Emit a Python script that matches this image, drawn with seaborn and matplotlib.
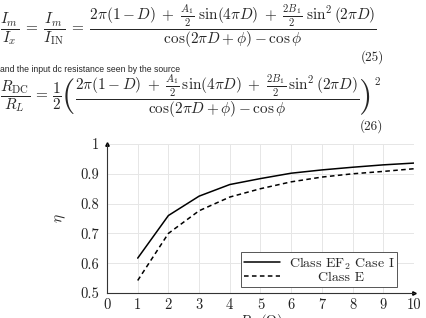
import numpy as np
import pandas as pd
import seaborn as sns
import matplotlib
matplotlib.use("Agg")
import matplotlib.pyplot as plt
from matplotlib.ticker import MultipleLocator, FuncFormatter

# Data
r_load = [1, 2, 3, 4, 5, 6, 7, 8, 9, 10]
eta_ef2 = [0.617, 0.760, 0.825, 0.864, 0.884, 0.902, 0.913, 0.922, 0.930, 0.936]
eta_e = [0.542, 0.700, 0.776, 0.822, 0.850, 0.873, 0.889, 0.900, 0.908, 0.917]
series_names = ["Class EF$_2$ Case I", "Class E"]
x_ticks = [0, 1, 2, 3, 4, 5, 6, 7, 8, 9, 10]
y_ticks = [0.5, 0.6, 0.7, 0.8, 0.9, 1.0]

df = pd.DataFrame({
    "R": r_load * 2,
    "eta": eta_ef2 + eta_e,
    "series": [series_names[0]] * len(r_load) + [series_names[1]] * len(r_load),
})

sns.set_style("white")
plt.rcParams["font.family"] = ["cmr10", "DejaVu Serif"]
plt.rcParams["mathtext.fontset"] = "cm"
plt.rcParams["axes.formatter.use_mathtext"] = True

fig = plt.figure(figsize=(4.27, 3.18), dpi=100)
W, H = 427, 318

# Equations above the chart
frac_body = (r"\dfrac{2\pi(1-D)\;+\;\frac{A_1}{2}\;\sin(4\pi D)\;+\;"
             r"\frac{2B_1}{2}\;\sin^2(2\pi D)}{\cos(2\pi D+\phi)-\cos\phi}")
frac_body26 = (r"\dfrac{2\pi(1-D)\;+\;\frac{A_1}{2}\,\sin(4\pi D)\;+\;"
               r"\frac{2B_1}{2}\,\sin^2(2\pi D)}{\cos(2\pi D+\phi)-\cos\phi}")
eq25 = r"$\dfrac{I_m}{I_x}\;=\;\dfrac{I_m}{I_{\rm IN}}\;=\;" + frac_body + r"$"
EQ_FS = 11
fig.text(0.0, 1 - 26 / H, eq25, fontsize=EQ_FS, ha="left", va="center")
fig.text(0.871, 1 - 57 / H, "(25)", fontsize=9.5, ha="center", va="center")
fig.text(0.0, 1 - 69 / H, "and the input dc resistance seen by the source",
         fontsize=6.2, ha="left", va="center", family=["Liberation Sans", "DejaVu Sans"])

# eq26 built from pieces (big parentheses drawn as separate glyphs)
fig.canvas.draw()
renderer = fig.canvas.get_renderer()
y26 = 1 - 96 / H
xcur = 0.0
pieces = [
    (r"$\dfrac{R_{\rm DC}}{R_L}\,=\,\dfrac{1}{2}$", EQ_FS),
    ("(", 25),
    ("$" + frac_body26 + "$", EQ_FS),
    (")", 25),
]
for txt, fs in pieces:
    t = fig.text(xcur, y26, txt, fontsize=fs, ha="left", va="center")
    bb = t.get_window_extent(renderer)
    xcur += bb.width / W
fig.text(xcur + 0.004, 1 - 82 / H, "2", fontsize=8, ha="left", va="center")
fig.text(0.871, 1 - 126 / H, "(26)", fontsize=9.5, ha="center", va="center")

ax = fig.add_axes([107 / W, 1 - 293 / H, (414 - 107) / W, (293 - 144) / H])
sns.lineplot(data=df, x="R", y="eta", hue="series", style="series",
             palette=["black", "black"], dashes=[(None, None), (3, 2.2)],
             linewidth=1.1, ax=ax, legend=True)

ax.set_xlim(0, 10)
ax.set_ylim(0.5, 1.0)
ax.set_xticks(x_ticks)
ax.set_yticks(y_ticks)
ax.xaxis.set_minor_locator(MultipleLocator(0.5))
ax.yaxis.set_minor_locator(MultipleLocator(0.05))
ax.yaxis.set_major_formatter(FuncFormatter(lambda v, p: "%g" % v))
ax.xaxis.set_major_formatter(FuncFormatter(lambda v, p: "%g" % v))
ax.tick_params(axis="both", which="major", direction="in", length=3.5, width=0.6,
               labelsize=10.5, colors="#222222")
ax.tick_params(axis="x", which="major", pad=3.5)
ax.tick_params(axis="y", which="major", pad=5.5)
ax.tick_params(axis="both", which="minor", direction="in", length=2, width=0.5, colors="#444444")
ax.grid(True, which="major", color="#e6e6e6", linewidth=0.7)
for s in ["top", "right"]:
    ax.spines[s].set_visible(False)
for s in ["left", "bottom"]:
    ax.spines[s].set_color("#333333")
    ax.spines[s].set_linewidth(0.8)
ax.plot(1, 0, ">k", markersize=2.5, transform=ax.transAxes, clip_on=False)
ax.plot(0, 1, "^k", markersize=2.5, transform=ax.transAxes, clip_on=False)

ax.set_xlabel(r"$R_L\,(\Omega)$", fontsize=10.5, labelpad=0.5)
ax.set_ylabel(r"$\eta$", fontsize=11, labelpad=9)

leg = ax.legend(loc="lower right", fontsize=10, frameon=True, fancybox=False,
                edgecolor="#555555", framealpha=1, borderpad=0.2, handlelength=2.6,
                labelspacing=0.0, handletextpad=0.6, borderaxespad=0,
                bbox_to_anchor=(0.945, 0.04))
leg.get_frame().set_linewidth(0.7)

# centre the second legend entry text like the reference
fig.canvas.draw()
texts = leg.get_texts()
w0 = texts[0].get_window_extent(renderer).width
w1 = texts[1].get_window_extent(renderer).width
texts[1].set_x((w0 - w1) / 2)

fig.savefig("out.png", dpi=100)
